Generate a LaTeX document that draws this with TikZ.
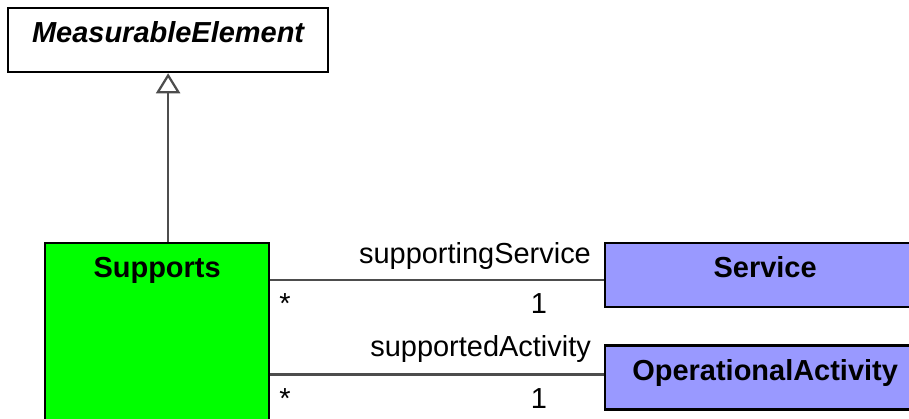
\documentclass[tikz,border=0pt]{standalone}
\usepackage{fontspec}
\setmainfont{Liberation Sans}
\usepackage{tikz}
\usetikzlibrary{arrows.meta, positioning, calc}
\definecolor{umlgreen}{RGB}{0,255,0}
\definecolor{umlblue}{RGB}{153,153,255}
\definecolor{umlline}{RGB}{77,77,77}
\newcommand{\umlfont}{\fontsize{20.6}{24}\selectfont}
\tikzset{
  classbox/.style={rectangle, draw=black, fill=white, anchor=north west,
    minimum width=8cm, inner xsep=0pt, inner ysep=0pt,
    text height=0.87cm, text depth=0.73cm,
    font=\umlfont\bfseries, line width=1.6pt},
  greenbox/.style={classbox, fill=umlgreen},
  bluebox/.style={classbox, fill=umlblue},
  assoc/.style={line width=1.6pt, color=umlline},
  genarrow/.style={-{Triangle[open, length=0.5cm, width=0.6cm, fill=white]},
    line width=1.6pt, color=umlline},
  rolename/.style={font=\umlfont, inner sep=0pt, anchor=base east, color=black},
  mult/.style={font=\umlfont, inner sep=0pt, color=black}
}

\begin{document}
\begin{tikzpicture}
  \useasboundingbox (0,0) rectangle (22.725,-10.45);
  \clip (0,0) rectangle (22.725,-10.45);

  % Classes
  \node[classbox, font=\umlfont\bfseries\itshape] (measurable) at (0.175,-0.175) {MeasurableElement};
  \node[greenbox, minimum width=5.6cm, text depth=4.6cm] (supports) at (1.1,-6.05) {Supports};
  \node[bluebox] (service) at (15.1,-6.05) {Service};
  \node[bluebox, below=0.9cm of service.south west, anchor=north west] (opactivity) {OperationalActivity};

  % Generalization
  \draw[genarrow] (supports.north -| measurable.south) -- (measurable.south);

  % Associations
  \coordinate (svcend) at ([yshift=-0.13cm]service.west);
  \coordinate (actend) at ([yshift=0.07cm]opactivity.west);

  \draw[assoc] (supports.east |- svcend) -- (svcend)
    node[rolename, pos=1, xshift=-0.3cm, yshift=0.43cm] (svcrolename) {supportingService}
    node[mult, pos=1, anchor=base east, xshift=-1.4cm, yshift=-0.84cm] (svcmultright) {1}
    node[mult, pos=0, anchor=base west, xshift=0.2cm, yshift=-0.84cm] (svcmultleft) {*};

  \draw[assoc] (supports.east |- actend) -- (actend)
    node[rolename, pos=1, xshift=-0.3cm, yshift=0.46cm] (actrolename) {supportedActivity}
    node[mult, pos=1, anchor=base east, xshift=-1.4cm, yshift=-0.84cm] (actmultright) {1}
    node[mult, pos=0, anchor=base west, xshift=0.2cm, yshift=-0.84cm] (actmultleft) {*};
\end{tikzpicture}
\end{document}
